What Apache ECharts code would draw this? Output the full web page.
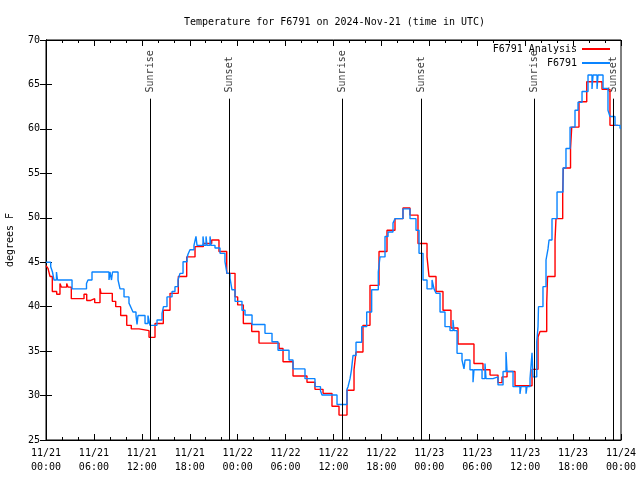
<!DOCTYPE html>
<html><head><meta charset="utf-8">
<script src="https://cdn.jsdelivr.net/npm/echarts@6/dist/echarts.min.js"></script>
<style>html,body{margin:0;padding:0;background:#fff}#c{width:640px;height:480px}</style>
</head><body><div id="c"></div>
<script>
// Hours since 2024-11-21 00:00 UTC
const analysisHours = [0,0.25,0.50,0.79,1.34,1.75,1.92,2.59,2.75,3.17,4.76,5.10,5.60,6.10,6.76,6.89,8.30,8.73,9.35,10.11,10.68,11.65,12.90,13.65,14.69,15.53,16.57,17.62,18.66,19.70,20.75,21.66,22.63,23.67,24.00,24.71,25.76,26.67,29.18,29.68,30.93,32.68,33.68,34.69,35.81,36.69,37.69,38.57,38.82,39.69,40.57,41.70,42.70,43.70,44.70,45.58,46.58,47.71,47.96,48.84,49.71,50.71,51.59,53.59,54.72,55.60,56.60,57.10,57.73,58.73,60.86,61.61,61.86,62.70,62.80,63.74,63.86,64.70,64.78,65.68,65.83,66.74,67.71,69.62,70.62,71.63];
const analysisTemps = [44.6,44.3,43.4,41.7,41.4,42.6,42.2,42.6,42.2,40.9,41.4,40.7,40.9,40.45,42.06,41.5,40.6,40.0,39.0,37.9,37.5,37.3,36.55,38.1,39.6,41.5,43.4,45.6,46.75,47.1,47.5,46.2,43.75,41.1,40.2,38.1,37.2,35.9,35.3,33.8,32.2,31.5,30.7,30.25,28.8,27.8,30.6,32.9,34.9,37.9,42.4,46.2,48.6,49.9,51.1,50.3,47.1,45.6,43.4,41.7,39.6,37.6,35.8,33.6,32.9,32.3,31.45,32.1,32.7,31.1,32.95,36.6,37.2,40.4,43.4,47.5,49.9,52.9,55.6,57.8,60.2,63.06,65.3,64.45,60.4,60.4];

const obsHours = [0,0.59,0.81,1.00,1.31,1.44,3.26,5.07,5.26,5.76,7.89,8.01,8.20,8.33,9.02,9.27,9.77,10.39,10.64,10.89,11.27,11.40,11.52,12.40,12.77,13.02,13.90,14.53,14.71,15.15,15.78,16.15,16.53,16.78,17.16,17.66,17.78,18.03,18.53,18.78,18.91,19.66,19.78,20.04,20.16,20.54,20.66,21.16,21.79,22.41,22.66,23.04,23.29,23.67,24.54,24.92,25.80,27.42,28.30,29.05,30.43,30.93,32.43,33.68,34.37,34.56,36.44,37.69,37.82,38.07,38.25,38.44,38.82,39.53,40.16,40.78,41.61,41.82,42.45,42.83,43.45,43.70,44.70,45.58,46.33,46.71,47.21,47.71,48.34,48.59,48.84,49.34,49.96,50.59,50.96,51.09,51.47,52.09,52.34,52.47,53.09,53.47,53.59,54.60,54.97,55.10,55.97,56.60,57.23,57.60,57.73,58.48,59.35,59.48,60.11,60.23,60.61,60.86,60.98,61.45,61.61,61.67,62.23,62.61,62.86,62.99,63.36,63.99,64.74,65.11,65.62,66.24,66.62,67.12,67.87,68.37,68.50,69.00,69.12,69.75,70.37,70.62,71.25,71.88,72.0];
const obsTemps = [45.0,44.5,43.9,43.0,43.9,43.0,42.0,42.6,43.0,43.9,43.0,43.9,43.0,43.9,43.0,42.0,41.1,40.4,39.9,39.4,39.0,38.0,39.0,38.1,39.0,37.9,38.5,39.25,40.0,41.1,41.7,42.25,43.0,43.75,45.06,45.5,45.9,46.4,46.9,47.9,46.9,47.9,46.9,47.9,46.9,47.9,46.9,46.6,46.0,45.06,43.75,43.2,41.9,40.6,39.6,39.06,38.0,37.0,36.06,35.1,34.0,33.0,31.9,31.0,30.55,30.06,29.0,30.7,31.0,31.9,32.9,34.5,36.0,37.75,39.4,41.9,43.9,45.6,47.9,48.4,49.4,49.9,51.0,49.9,48.6,46.0,43.0,42.0,43.0,42.0,41.5,39.4,37.75,37.3,38.5,37.3,34.75,34.0,33.0,34.0,32.9,31.5,32.9,31.9,33.6,31.9,32.1,31.2,32.7,34.9,32.7,31.0,30.2,31.0,30.2,31.0,31.9,34.8,32.1,36.06,37.75,40.0,42.25,45.25,46.5,47.5,49.9,52.9,55.6,57.8,60.2,62.1,63.0,64.2,66.06,64.5,66.06,64.5,66.06,64.56,62.1,61.4,60.4,60.06,60.06];

const sunNames = ['Sunrise','Sunset','Sunrise','Sunset','Sunrise','Sunset'];
const sunHours = [13.02,22.95,37.10,46.96,61.14,71.04];

const xTickLabels = ['11/21\n00:00','11/21\n06:00','11/21\n12:00','11/21\n18:00','11/22\n00:00','11/22\n06:00','11/22\n12:00','11/22\n18:00','11/23\n00:00','11/23\n06:00','11/23\n12:00','11/23\n18:00','11/24\n00:00'];
const seriesNames = ['F6791 Analysis','F6791'];

const FONT = 'DejaVu Sans Mono';
const zip = (a,b) => a.map((v,i)=>[v,b[i]]);
const lineTop = 63.4, labelBase = 64.1;

const chart = echarts.init(document.getElementById('c'), null, {renderer:'canvas'});
const axisCommon = {
  axisLine:{show:true,lineStyle:{color:'#000',width:1}},
  splitLine:{show:false}
};
const legendCommon = {orient:'vertical',align:'right',itemWidth:28,itemHeight:2,icon:'rect',padding:0,
  textStyle:{fontFamily:FONT,fontSize:10,color:'#000'}};
chart.setOption({
  animation:false,
  backgroundColor:'#fff',
  title:{text:'Temperature for F6791 on 2024-Nov-21 (time in UTC)',left:179,top:12,
    textStyle:{fontFamily:FONT,fontSize:10,fontWeight:'normal',color:'#000'}},
  legend:[
    Object.assign({data:[seriesNames[0]],right:30,top:44},legendCommon),
    Object.assign({data:[seriesNames[1]],right:30,top:58},legendCommon)
  ],
  grid:{left:46,right:19,top:40,bottom:40,show:true,borderColor:'#000',borderWidth:1,
    containLabel:false,outerBoundsMode:'none'},
  xAxis:[
    Object.assign({type:'value',min:0,max:72,interval:6,position:'bottom',
      axisTick:{show:true,inside:true,length:6,lineStyle:{color:'#000'}},
      minorTick:{show:true,splitNumber:3,length:3,lineStyle:{color:'#000'}},
      axisLabel:{fontFamily:FONT,fontSize:10,color:'#000',margin:6,lineHeight:14,
        formatter:(v)=>xTickLabels[Math.round(v/6)]}},axisCommon),
    Object.assign({type:'value',min:0,max:72,interval:6,position:'top',
      axisTick:{show:true,inside:true,length:6,lineStyle:{color:'#000'}},
      minorTick:{show:true,splitNumber:3,length:3,lineStyle:{color:'#000'}},
      axisLabel:{show:false}},axisCommon)
  ],
  yAxis:[
    Object.assign({type:'value',min:25,max:70,interval:5,position:'left',
      name:'degrees F',nameLocation:'middle',nameGap:31,nameRotate:90,
      nameTextStyle:{fontFamily:FONT,fontSize:10,color:'#000'},
      axisTick:{show:true,inside:true,length:6,lineStyle:{color:'#000'}},
      axisLabel:{fontFamily:FONT,fontSize:10,color:'#000',margin:6}},axisCommon),
    Object.assign({type:'value',min:25,max:70,interval:5,position:'right',
      axisTick:{show:true,inside:true,length:6,lineStyle:{color:'#000'}},
      axisLabel:{show:false}},axisCommon)
  ],
  series:[
    {name:seriesNames[0],type:'line',step:'end',showSymbol:false,symbol:'none',
      data:zip(analysisHours,analysisTemps),lineStyle:{color:'#ff0000',width:1.4},itemStyle:{color:'#ff0000'}},
    {name:seriesNames[1],type:'line',step:'end',showSymbol:false,symbol:'none',
      data:zip(obsHours,obsTemps),lineStyle:{color:'#0a84ff',width:1.4},itemStyle:{color:'#0a84ff'}},
    {name:'sun',type:'scatter',symbolSize:0,silent:true,
      data:sunHours.map((h,i)=>({value:[h,labelBase],name:sunNames[i]})),
      label:{show:true,position:'inside',rotate:90,align:'left',verticalAlign:'middle',
        formatter:(p)=>p.name,fontFamily:FONT,fontSize:10,color:'#000'},
      markLine:{silent:true,symbol:'none',label:{show:false},animation:false,
        lineStyle:{color:'#000',width:1,type:'solid'},
        data:sunHours.map(h=>[{coord:[h,lineTop]},{coord:[h,25]}])}}
  ]
});
</script></body></html>
